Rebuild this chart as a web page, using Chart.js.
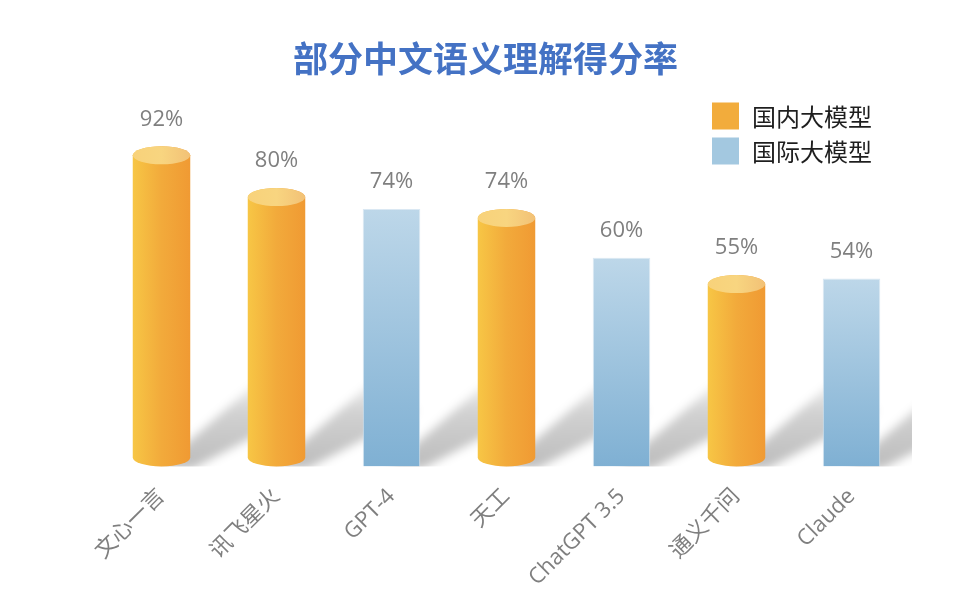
<!DOCTYPE html>
<html><head><meta charset="utf-8">
<script src="https://cdn.jsdelivr.net/npm/chart.js@4.4.1/dist/chart.umd.min.js"></script>
<style>html,body{margin:0;padding:0;background:#fff;}#wrap{width:960px;height:615px;position:relative;}</style>
</head><body><div id="wrap"><canvas id="c"></canvas></div>
<script>
const categories = ['文心一言', '讯飞星火', 'GPT-4', '天工', 'ChatGPT 3.5', '通义千问', 'Claude'];
const domesticValues = [92, 80, null, 74, null, 55, null];
const internationalValues = [null, null, 74, null, 60, null, 54];
const seriesNames = ['国内大模型', '国际大模型'];
const legendColors = ['#F2AC3C', '#A3C8E0'];
const titleText = '部分中文语义理解得分率';

const CJK = "'Noto Sans CJK SC', sans-serif";
const LAT = "'Open Sans', 'Noto Sans CJK SC', sans-serif";

function eachBar(chart, fn) {
  chart.data.datasets.forEach((ds, di) => {
    const meta = chart.getDatasetMeta(di);
    meta.data.forEach((el, i) => {
      const v = ds.data[i];
      if (v === null || v === undefined) return;
      fn(el, v, di, i);
    });
  });
}

const shadowPlugin = {
  id: 'shadows',
  beforeDatasetsDraw(chart) {
    const ctx = chart.ctx, ca = chart.chartArea;
    ctx.save();
    ctx.beginPath();
    ctx.rect(0, 0, ca.right + 3, ca.bottom);
    ctx.clip();
    ctx.filter = 'blur(5px)';
    eachBar(chart, (el) => {
      const p = el.getProps(['x', 'base', 'width'], true);
      const r = p.x + p.width / 2;
      const g = ctx.createLinearGradient(0, p.base, 0, p.base - 90);
      g.addColorStop(0, 'rgba(0,0,0,0.26)');
      g.addColorStop(0.6, 'rgba(0,0,0,0.18)');
      g.addColorStop(1, 'rgba(0,0,0,0.03)');
      ctx.fillStyle = g;
      ctx.beginPath();
      ctx.moveTo(p.x - 4, p.base + 2);
      ctx.lineTo(r + 2, p.base + 2);
      ctx.lineTo(r + 112, p.base - 55);
      ctx.lineTo(p.x - 4 + 104, p.base - 88);
      ctx.closePath();
      ctx.fill();
    });
    ctx.restore();
  }
};

function drawCylinder(ctx, x, top, base, w) {
  const rx = w / 2, ry = 9;
  const l = x - rx, r = x + rx;
  const g = ctx.createLinearGradient(l, 0, r, 0);
  g.addColorStop(0, '#F7C645');
  g.addColorStop(0.5, '#F2AA3B');
  g.addColorStop(1, '#F09A33');
  ctx.fillStyle = g;
  ctx.beginPath();
  ctx.moveTo(l, top + ry);
  ctx.lineTo(l, base - ry);
  ctx.ellipse(x, base - ry, rx, ry, 0, Math.PI, 0, true);
  ctx.lineTo(r, top + ry);
  ctx.ellipse(x, top + ry, rx, ry, 0, 0, Math.PI, true);
  ctx.closePath();
  ctx.fill();
  const g2 = ctx.createLinearGradient(l, 0, r, 0);
  g2.addColorStop(0, '#F8D27A');
  g2.addColorStop(0.5, '#F8D580');
  g2.addColorStop(1, '#F2C176');
  ctx.fillStyle = g2;
  ctx.beginPath();
  ctx.ellipse(x, top + ry, rx, ry, 0, 0, Math.PI * 2);
  ctx.fill();
}

const cylinderPlugin = {
  id: 'cylinders',
  afterDatasetDraw(chart, args) {
    if (args.index !== 0) return;
    const ctx = chart.ctx;
    ctx.save();
    const meta = chart.getDatasetMeta(0);
    meta.data.forEach((el, i) => {
      const v = chart.data.datasets[0].data[i];
      if (v === null || v === undefined) return;
      const p = el.getProps(['x', 'y', 'base', 'width'], true);
      drawCylinder(ctx, p.x, p.y, p.base, p.width);
    });
    ctx.restore();
  }
};

const valueLabelPlugin = {
  id: 'valueLabels',
  afterDatasetsDraw(chart) {
    const ctx = chart.ctx;
    ctx.save();
    ctx.font = '22px ' + LAT;
    ctx.fillStyle = '#7F7F7F';
    ctx.textAlign = 'center';
    ctx.textBaseline = 'middle';
    eachBar(chart, (el, v) => {
      const p = el.getProps(['x', 'y'], true);
      ctx.fillText(v + '%', p.x, p.y - 27);
    });
    ctx.restore();
  }
};

const legendPlugin = {
  id: 'boxLegend',
  afterDraw(chart) {
    const ctx = chart.ctx;
    ctx.save();
    ctx.font = '24px ' + CJK;
    ctx.textBaseline = 'middle';
    ctx.textAlign = 'left';
    seriesNames.forEach((name, i) => {
      const top = 102.5 + i * 35;
      ctx.fillStyle = legendColors[i];
      ctx.fillRect(712, top, 27, 27);
      ctx.fillStyle = '#1E1E1E';
      ctx.fillText(name, 752, top + 14);
    });
    ctx.restore();
  }
};

function blueGradient(context) {
  const chart = context.chart;
  const ca = chart.chartArea;
  if (!ca || context.raw === null || context.raw === undefined) return '#A3C8E0';
  const y = chart.scales.y.getPixelForValue(context.raw);
  const g = chart.ctx.createLinearGradient(0, y, 0, ca.bottom);
  g.addColorStop(0, '#BDD7E9');
  g.addColorStop(1, '#7FB0D3');
  return g;
}

new Chart(document.getElementById('c'), {
  type: 'bar',
  data: {
    labels: categories,
    datasets: [
      { label: seriesNames[0], data: domesticValues, backgroundColor: 'rgba(0,0,0,0)', borderWidth: 0 },
      { label: seriesNames[1], data: internationalValues, backgroundColor: blueGradient,
        borderColor: 'rgba(214,230,242,0.9)', borderWidth: 1 }
    ]
  },
  options: {
    responsive: true,
    maintainAspectRatio: false,
    animation: false,
    events: [],
    layout: { padding: { left: 62, right: 51, top: 0, bottom: 0 } },
    datasets: { bar: { grouped: false, barPercentage: 0.5, categoryPercentage: 1 } },
    plugins: {
      legend: { display: false },
      tooltip: { enabled: false },
      title: {
        display: true, text: titleText, color: '#4472C4',
        font: { family: CJK, size: 35, weight: 'bold' },
        padding: { top: 38, bottom: 38.5 }
      }
    },
    scales: {
      x: {
        grid: { display: false, drawTicks: false },
        border: { display: false },
        ticks: { color: '#7F7F7F', font: { family: LAT, size: 22 }, minRotation: 45, maxRotation: 45, padding: 17, autoSkip: false },
        afterFit(scale) { scale.height = 148.5; }
      },
      y: {
        min: 0, max: 100,
        grid: { display: false, drawTicks: false },
        border: { display: false },
        ticks: { display: false },
        afterFit(scale) { scale.width = 42; }
      }
    }
  },
  plugins: [shadowPlugin, cylinderPlugin, valueLabelPlugin, legendPlugin]
});
</script>
</body></html>
